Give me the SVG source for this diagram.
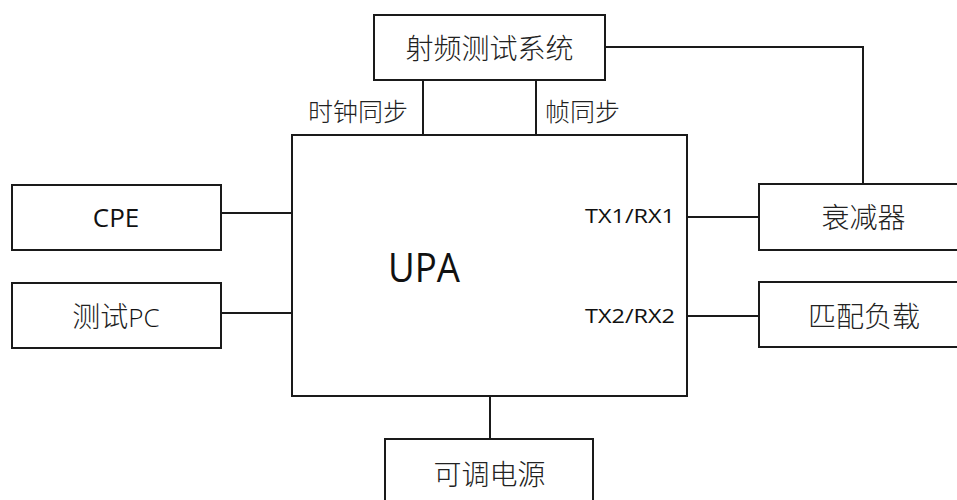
<svg xmlns="http://www.w3.org/2000/svg" width="957" height="500" viewBox="0 0 957 500">
<style>
.box{fill:#fff;stroke:#1a1a1a;stroke-width:2}
.ln{fill:none;stroke:#1a1a1a;stroke-width:2}
.cn{font-family:"Noto Sans CJK SC","Noto Sans",sans-serif;fill:#222;font-weight:300}
.lt{font-family:"Open Sans","Noto Sans",sans-serif;fill:#111}
</style>
<rect width="957" height="500" fill="#fff"/>
<g id="connectors">
<path class="ln" d="M423 80V135M536 80V135"/>
<path class="ln" d="M605 47H863V184"/>
<path class="ln" d="M221 213H292M221 313H292"/>
<path class="ln" d="M687 217H759M687 316H759"/>
<path class="ln" d="M490 396V439"/>
</g>
<g id="rf">
<rect class="box" x="374" y="15" width="231" height="65"/>
<text class="cn" x="489.5" y="59" font-size="28" text-anchor="middle">射频测试系统</text>
</g>
<g id="upa">
<rect class="box" x="292" y="135" width="395" height="261"/>
<text class="lt" x="388" y="282" font-size="40" textLength="72" lengthAdjust="spacingAndGlyphs">UPA</text>
<text class="lt" x="585" y="223" font-size="20" textLength="90" lengthAdjust="spacingAndGlyphs">TX1/RX1</text>
<text class="lt" x="585" y="323" font-size="20" textLength="90" lengthAdjust="spacingAndGlyphs">TX2/RX2</text>
</g>
<g id="labels">
<text class="cn" x="308" y="121" font-size="25">时钟同步</text>
<text class="cn" x="545" y="121" font-size="25">帧同步</text>
</g>
<g id="cpe">
<rect class="box" x="12" y="185" width="209" height="65"/>
<text class="lt" x="116" y="227" font-size="26" text-anchor="middle">CPE</text>
</g>
<g id="pc">
<rect class="box" x="12" y="283" width="209" height="65"/>
<text class="cn" x="116" y="327" font-size="28" text-anchor="middle">测试<tspan class="lt" font-size="26">PC</tspan></text>
</g>
<g id="att">
<rect class="box" x="759" y="184" width="210" height="66"/>
<text class="cn" x="863.5" y="228" font-size="28" text-anchor="middle">衰减器</text>
</g>
<g id="load">
<rect class="box" x="759" y="282" width="210" height="65"/>
<text class="cn" x="864" y="327" font-size="28" text-anchor="middle">匹配负载</text>
</g>
<g id="psu">
<rect class="box" x="385" y="439" width="208" height="75"/>
<text class="cn" x="489.5" y="485" font-size="28" text-anchor="middle">可调电源</text>
</g>
</svg>
